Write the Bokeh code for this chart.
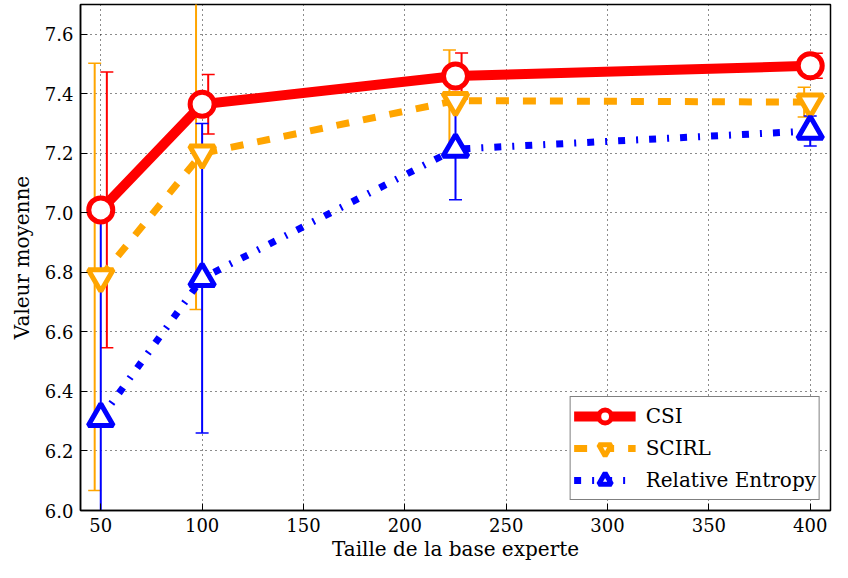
from bokeh.plotting import figure
from bokeh.models import (ColumnDataSource, Whisker, TeeHead, Legend, LegendItem, Range1d,
                          FixedTicker, PrintfTickFormatter)
from bokeh.transform import dodge
from bokeh.embed import file_html
from bokeh.resources import INLINE

# ---- data ----
sizes = [50, 100, 225, 400]
csi_mean = [7.01, 7.365, 7.46, 7.494]
csi_err = [0.463, 0.10, 0.077, 0.042]
scirl_mean = [6.785, 7.20, 7.377, 7.372]
scirl_err = [0.718, 0.525, 0.17, 0.05]
re_mean = [6.31, 6.78, 7.214, 7.275]
re_err = [0.72, 0.52, 0.17, 0.05]
x_ticks = [50, 100, 150, 200, 250, 300, 350, 400]
y_ticks = [6.0, 6.2, 6.4, 6.6, 6.8, 7.0, 7.2, 7.4, 7.6]

FONT = "DejaVu Serif"

p = figure(frame_width=750, frame_height=506, output_backend="svg",
           toolbar_location=None, x_range=Range1d(40, 410), y_range=Range1d(6.0, 7.7),
           min_border_left=80, min_border_right=2, min_border_top=4, min_border_bottom=52)
p.background_fill_color = "white"
p.border_fill_color = "white"
p.outline_line_color = "black"
p.outline_line_width = 1.5

for ax in (p.xaxis[0], p.yaxis[0]):
    ax.major_label_text_font = FONT
    ax.major_label_text_font_size = "18px"
    ax.major_label_text_color = "black"
    ax.axis_label_text_font = FONT
    ax.axis_label_text_font_size = "20px"
    ax.axis_label_text_font_style = "normal"
    ax.axis_label_text_color = "black"
    ax.major_tick_in = 7
    ax.major_tick_out = 0
    ax.minor_tick_in = 0
    ax.minor_tick_out = 0
    ax.axis_line_color = "black"
    ax.axis_line_width = 1.5
    ax.major_tick_line_color = "black"

p.xaxis.ticker = FixedTicker(ticks=x_ticks)
p.yaxis.ticker = FixedTicker(ticks=y_ticks)
p.yaxis.formatter = PrintfTickFormatter(format="%.1f")
p.xaxis.axis_label = "Taille de la base experte"
p.yaxis.axis_label = "Valeur moyenne"
p.xaxis.major_label_standoff = 7
p.xaxis.axis_label_standoff = 2
p.yaxis.major_label_standoff = 7
p.yaxis.axis_label_standoff = 8

for g in (p.xgrid[0], p.ygrid[0]):
    g.grid_line_color = "black"
    g.grid_line_dash = "1 4"
    g.grid_line_width = 1
    g.grid_line_alpha = 0.9

series = [
    ("CSI", csi_mean, csi_err, "red", 3, "circle", 10, "solid", 24),
    ("SCIRL", scirl_mean, scirl_err, "orange", -3, "inverted_triangle", 7, "13 14", 25),
    ("Relative Entropy", re_mean, re_err, "blue", 0, "triangle", 7, "7 11 2 11", 25),
]

sources = []
for name, mean, err, color, off, marker, lw, dash, msize in series:
    src = ColumnDataSource(dict(
        x=sizes, y=mean,
        upper=[m + e for m, e in zip(mean, err)],
        lower=[m - e for m, e in zip(mean, err)],
    ))
    sources.append(src)
    w = Whisker(source=src, base=dodge("x", off), upper="upper", lower="lower",
                dimension="height", line_color=color, line_width=2,
                upper_head=TeeHead(size=13, line_color=color, line_width=1.5),
                lower_head=TeeHead(size=13, line_color=color, line_width=1.5))
    w.level = "underlay"
    p.add_layout(w)

items = []
for (name, mean, err, color, off, marker, lw, dash, msize), src in zip(series, sources):
    l = p.line("x", "y", source=src, line_color=color, line_width=lw, line_dash=dash)
    s = p.scatter("x", "y", source=src, marker=marker, size=msize,
                  fill_color="white", line_color=color, line_width=5)
    items.append(LegendItem(label=name, renderers=[l, s]))

legend = Legend(items=items, location="bottom_right")
legend.label_text_font = FONT
legend.label_text_font_size = "20px"
legend.label_text_color = "black"
legend.glyph_width = 62
legend.glyph_height = 32
legend.label_standoff = 10
legend.spacing = 0
legend.padding = 3
legend.margin = 10
legend.border_line_color = "black"
legend.border_line_width = 1.5
legend.background_fill_color = "white"
legend.background_fill_alpha = 1.0
p.add_layout(legend)

open("out.html", "w").write(file_html(p, INLINE))
